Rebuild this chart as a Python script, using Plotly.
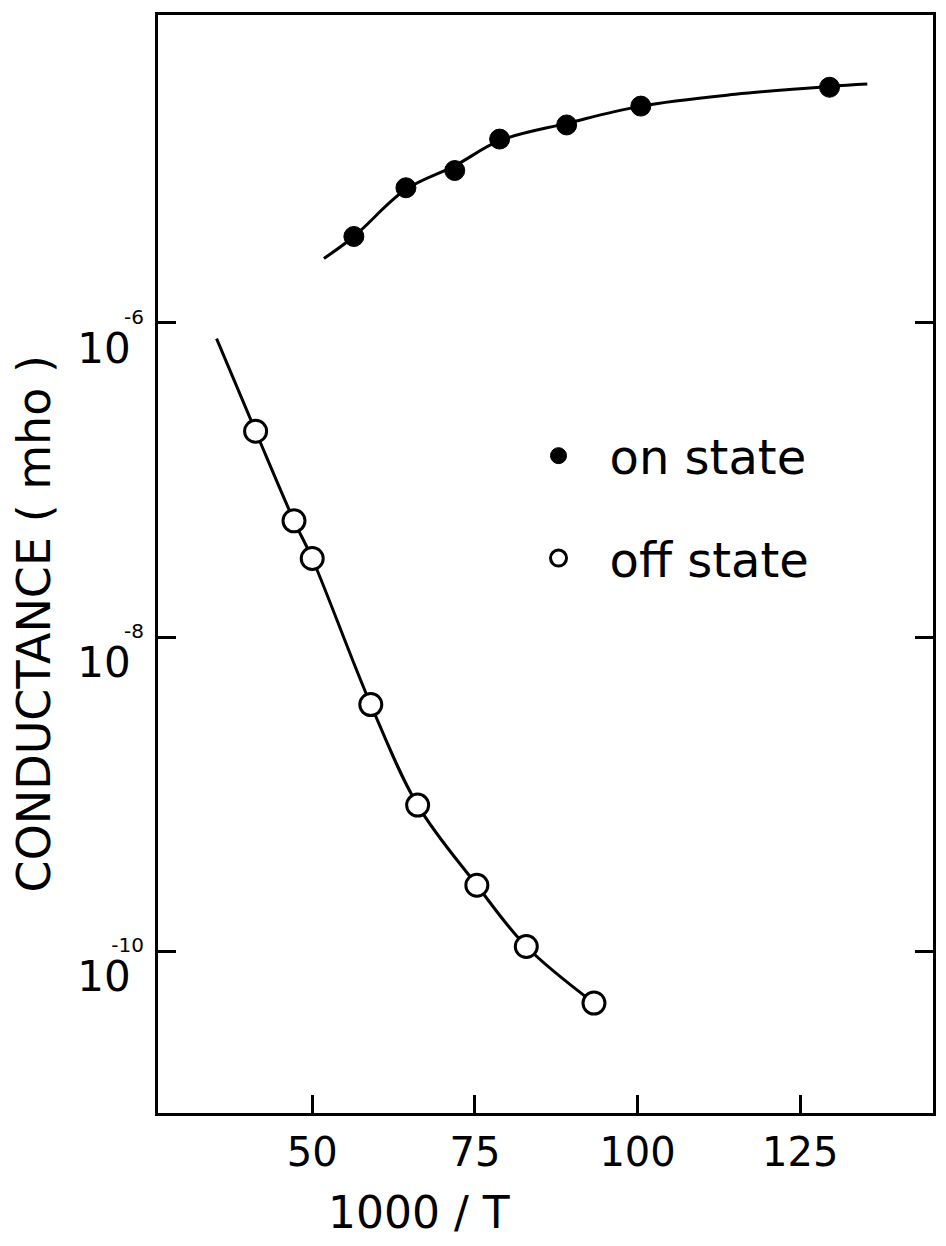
import plotly.graph_objects as go

# ---- data ----
on_x = [56.4, 64.4, 71.9, 78.8, 89.1, 100.5, 129.5]
on_logy = [-5.45, -5.14, -5.03, -4.83, -4.74, -4.62, -4.50]

off_x = [41.3, 47.2, 50.0, 59.0, 66.2, 75.3, 82.9, 93.3]
off_logy = [-6.69, -7.26, -7.50, -8.43, -9.07, -9.58, -9.97, -10.33]

# fitted curves
on_curve_x = [51.8, 56.4, 64.4, 71.9, 78.8, 89.1, 100.5, 115.0, 129.5, 135.3]
on_curve_logy = [-5.59, -5.45, -5.15, -5.00, -4.84, -4.73, -4.62, -4.545, -4.495, -4.48]

off_curve_x = [35.3, 41.3, 47.2, 50.0, 59.0, 66.2, 75.3, 82.9, 93.3]
off_curve_logy = [-6.10, -6.69, -7.26, -7.50, -8.43, -9.07, -9.58, -9.97, -10.33]

x_ticks = [50, 75, 100, 125]
y_tick_vals = [1e-6, 1e-8, 1e-10]
y_exponents = ["-6", "-8", "-10"]
y_tick_text = ["<span style='font-size:20px'>%s</span><br>"
               "<span style='font-size:42px'>10\u00a0</span>" % e
               for e in y_exponents]

p = lambda a: [10 ** v for v in a]

FONT = "DejaVu Sans, Liberation Sans, Arial, sans-serif"

fig = go.Figure()
fig.add_trace(go.Scatter(x=on_curve_x, y=p(on_curve_logy), mode="lines",
                         line=dict(color="black", width=3, shape="spline"),
                         showlegend=False, hoverinfo="skip"))
fig.add_trace(go.Scatter(x=off_curve_x, y=p(off_curve_logy), mode="lines",
                         line=dict(color="black", width=3, shape="spline"),
                         showlegend=False, hoverinfo="skip"))
fig.add_trace(go.Scatter(x=on_x, y=p(on_logy), mode="markers", name="on state",
                         legendgroup="on",
                         marker=dict(symbol="circle", size=20, color="black",
                                     line=dict(color="black", width=1))))
fig.add_trace(go.Scatter(x=off_x, y=p(off_logy), mode="markers", name="off state",
                         legendgroup="off",
                         marker=dict(symbol="circle", size=22, color="white",
                                     line=dict(color="black", width=3))))

fig.update_layout(
    width=946, height=1246,
    margin=dict(l=158, r=10, t=15, b=133),
    paper_bgcolor="white", plot_bgcolor="white",
    font=dict(family=FONT, color="black", size=40),
    legend=dict(x=0.451, y=0.633, xanchor="left", yanchor="top",
                bgcolor="rgba(0,0,0,0)", font=dict(size=48),
                tracegroupgap=37, itemwidth=92),
    xaxis=dict(range=[26.3, 145.4], tickvals=x_ticks, ticks="inside",
               ticklen=18, tickwidth=3, tickcolor="black",
               showline=True, linewidth=3, linecolor="black", mirror=True,
               showgrid=False, zeroline=False, ticklabelstandoff=2,
               tickfont=dict(size=40)),
    yaxis=dict(type="log", range=[-11.03, -4.04], tickvals=y_tick_vals,
               ticktext=y_tick_text, ticks="inside", ticklen=18, tickwidth=3,
               tickcolor="black", showline=True, linewidth=3, linecolor="black",
               mirror="ticks", showgrid=False, zeroline=False,
               ticklabelstandoff=5, ticklabelshift=10,
               tickfont=dict(size=30)),
    annotations=[
        dict(text="1000 / T", x=420, y=1212, showarrow=False,
             font=dict(size=44)),
        dict(text="CONDUCTANCE ( mho )", x=34, y=624, textangle=-90,
             showarrow=False, font=dict(size=46)),
    ],
)

# convert pixel positions of the two axis titles to paper coords
W, H = 946, 1246
L, R, T, B = 158, 10, 15, 133
pw, ph = W - L - R, H - T - B
ann = list(fig.layout.annotations)
for a in ann:
    a.xref = "paper"; a.yref = "paper"
    a.x = (a.x - L) / pw
    a.y = 1 - (a.y - T) / ph
    a.xanchor = "center"; a.yanchor = "middle"
fig.layout.annotations = ann

fig.write_html("out.html")
